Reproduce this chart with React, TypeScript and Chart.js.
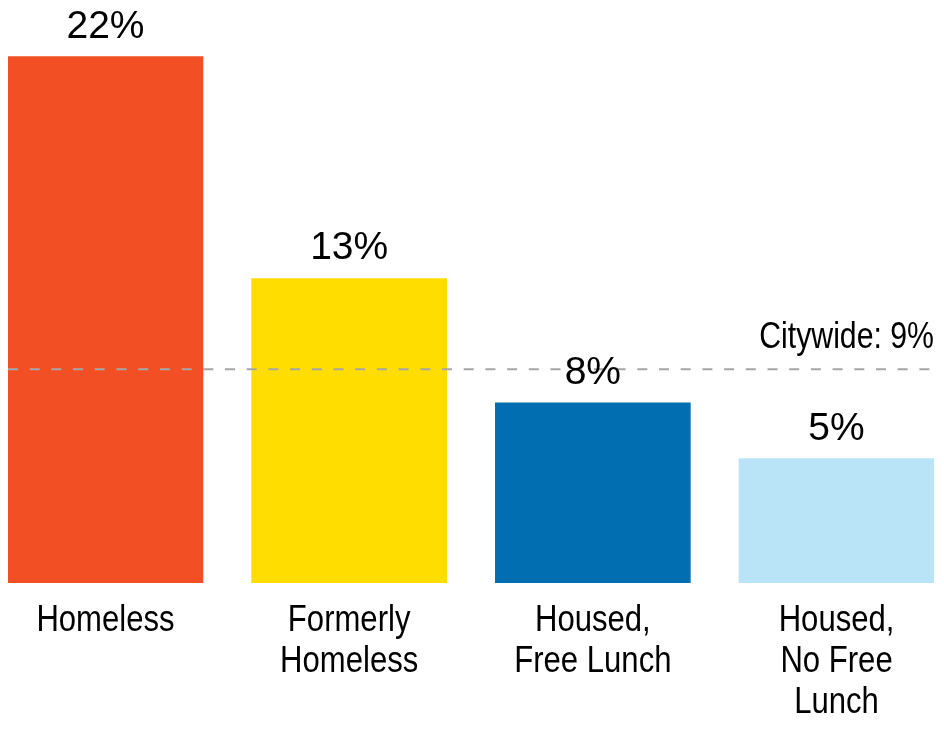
import React, { useEffect, useRef } from "react";
import { Chart, registerables } from "chart.js";

Chart.register(...registerables);

const categories: string[][] = [
  ["Homeless"],
  ["Formerly", "Homeless"],
  ["Housed,", "Free Lunch"],
  ["Housed,", "No Free", "Lunch"],
];
const values: number[] = [22, 12.73, 7.53, 5.2];
const valueLabels: string[] = ["22%", "13%", "8%", "5%"];
const barColors: string[] = ["#F25024", "#FFDD00", "#006EB1", "#B9E4F8"];
const citywideValue = 8.94;
const citywideLabel = "Citywide: 9%";

const REGULAR = "'Liberation Sans', Arial, sans-serif";
const NARROW_SCALE = 0.84;

function narrowText(ctx: CanvasRenderingContext2D, text: string, x: number, y: number, align: "left" | "center" | "right") {
  ctx.save();
  ctx.translate(x, y);
  ctx.scale(NARROW_SCALE, 1);
  ctx.textAlign = align;
  ctx.fillText(text, 0, 0);
  ctx.restore();
}

const overlayPlugin = {
  id: "overlay",
  afterDatasetsDraw(chart: any) {
    const { ctx, chartArea, scales } = chart;
    const y = scales.y.getPixelForValue(citywideValue);
    ctx.save();
    ctx.strokeStyle = "#A6A6A6";
    ctx.lineWidth = 2;
    ctx.setLineDash([10, 11.7]);
    ctx.beginPath();
    ctx.moveTo(chartArea.left, y);
    ctx.lineTo(chartArea.right, y);
    ctx.stroke();
    ctx.setLineDash([]);
    ctx.fillStyle = "#000";
    ctx.textBaseline = "alphabetic";
    ctx.font = `36px ${REGULAR}`;
    narrowText(ctx, citywideLabel, chartArea.right, y - 21, "right");

    const meta = chart.getDatasetMeta(0);
    ctx.font = `39px ${REGULAR}`;
    ctx.textAlign = "center";
    meta.data.forEach((bar: any, i: number) => {
      ctx.fillText(valueLabels[i], bar.x, bar.y - 19);
    });

    // category labels, positioned from the x scale
    ctx.font = `37px ${REGULAR}`;
    categories.forEach((lines, i) => {
      const cx = scales.x.getPixelForValue(i);
      lines.forEach((line, j) => {
        narrowText(ctx, line, cx, chartArea.bottom + 48 + j * 41, "center");
      });
    });
    ctx.restore();
  },
};

export default function App() {
  const canvasRef = useRef<HTMLCanvasElement | null>(null);

  useEffect(() => {
    if (!canvasRef.current) return;
    const chart = new Chart(canvasRef.current, {
      type: "bar",
      data: {
        datasets: [
          {
            data: values.map((v, i) => ({ x: i, y: v })),
            backgroundColor: barColors,
            borderWidth: 0,
            barThickness: 195,
          },
        ],
      },
      options: {
        animation: false,
        responsive: false,
        maintainAspectRatio: false,
        layout: { padding: { left: 8, right: 10, top: 0, bottom: 151 } },
        plugins: {
          legend: { display: false },
          tooltip: { enabled: false },
        },
        scales: {
          x: {
            type: "linear",
            display: false,
            offset: false,
            min: -0.4,
            max: 3.4,
            afterBuildTicks: (axis: any) => {
              axis.ticks = categories.map((_, i) => ({ value: i }));
            },
          },
          y: {
            display: false,
            min: 0,
            max: 24.37,
          },
        },
      },
      plugins: [overlayPlugin],
    } as any);
    return () => chart.destroy();
  }, []);

  return (
    <div style={{ position: "absolute", left: 0, top: 0, width: 944, height: 734, background: "#fff" }}>
      <canvas ref={canvasRef} width={944} height={734} style={{ width: 944, height: 734, display: "block" }} />
    </div>
  );
}
